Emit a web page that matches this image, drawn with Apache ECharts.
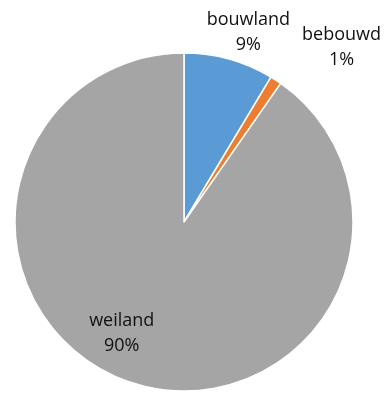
<!DOCTYPE html>
<html>
<head>
<meta charset="utf-8">
<script src="https://cdn.jsdelivr.net/npm/echarts@6/dist/echarts.min.js"></script>
<style>
  html, body { margin: 0; padding: 0; background: #fff; }
  #main { width: 389px; height: 394px; }
</style>
</head>
<body>
<div id="main"></div>
<script>
// grondgebruik
var categories = ['bouwland', 'bebouwd', 'weiland'];
var values = [8.6, 1.1, 90.3];
var colors = ['#5B9BD5', '#ED7D31', '#A5A5A5'];
// label verschuiving t.o.v. de binnenpositie
var labelOffsets = [[41, -105], [110, -101], [-36, 28]];

var pieData = categories.map(function (name, i) {
  return {
    name: name,
    value: values[i],
    itemStyle: { color: colors[i] },
    label: { offset: labelOffsets[i] }
  };
});

var myChart = echarts.init(document.getElementById('main'));
myChart.setOption({
  animation: false,
  series: [
    {
      type: 'pie',
      center: [184, 222],
      radius: 169,
      startAngle: 90,
      clockwise: true,
      avoidLabelOverlap: false,
      itemStyle: { borderColor: '#fff', borderWidth: 1.5 },
      label: {
        show: true,
        position: 'inside',
        color: '#111',
        fontFamily: 'Open Sans',
        fontSize: 18,
        lineHeight: 25,
        formatter: function (p) {
          return p.name + '\n' + Math.round(p.percent) + '%';
        }
      },
      labelLine: { show: false },
      data: pieData
    }
  ]
});
</script>
</body>
</html>
